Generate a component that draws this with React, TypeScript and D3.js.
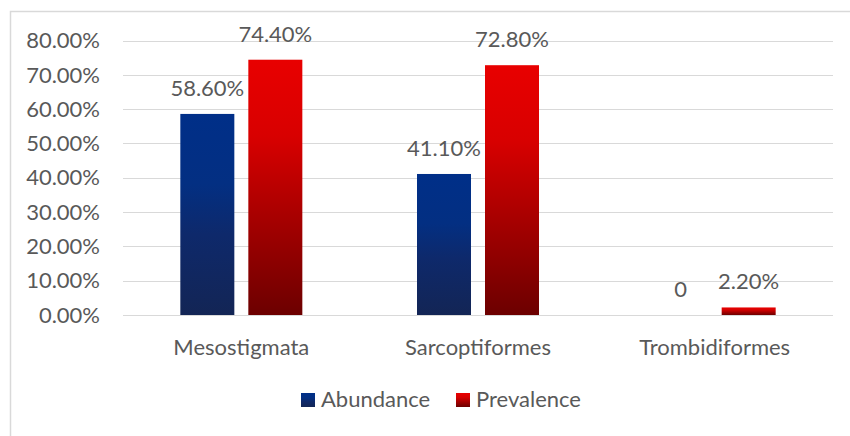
import React from "react";
import * as d3 from "d3";

const categories = ["Mesostigmata", "Sarcoptiformes", "Trombidiformes"];
const seriesNames = ["Abundance", "Prevalence"];
const abundance = [58.6, 41.1, 0];
const prevalence = [74.4, 72.8, 2.2];
const abundanceLabels = ["58.60%", "41.10%", "0"];
const prevalenceLabels = ["74.40%", "72.80%", "2.20%"];
const yTicks = [0, 10, 20, 30, 40, 50, 60, 70, 80];

const W = 850;
const H = 436;
const FONT = "Lato, Carlito, 'Liberation Sans', sans-serif";
const TEXT = "#595959";
const FS = 22;

export default function App() {
  const x = d3.scaleBand<string>().domain(categories).range([123, 833]);
  const y = d3.scaleLinear().domain([0, 80]).range([315, 40.5]);
  const barW = 54;
  const gap = 14;
  const series = [abundance, prevalence];
  const labels = [abundanceLabels, prevalenceLabels];
  const fills = ["url(#gBlue)", "url(#gRed)"];

  return (
    <svg
      width={W}
      height={H}
      style={{ position: "absolute", left: 0, top: 0, display: "block", background: "#fff" }}
      fontFamily={FONT}
    >
      <defs>
        <linearGradient id="gBlue" x1="0" y1="0" x2="0" y2="1">
          <stop offset="0" stopColor="#002f88" />
          <stop offset="0.35" stopColor="#032f82" />
          <stop offset="0.6" stopColor="#0e296b" />
          <stop offset="1" stopColor="#132555" />
        </linearGradient>
        <linearGradient id="gRed" x1="0" y1="0" x2="0" y2="1">
          <stop offset="0" stopColor="#e80000" />
          <stop offset="0.3" stopColor="#d80000" />
          <stop offset="1" stopColor="#6c0000" />
        </linearGradient>
      </defs>
      <rect x={10.5} y={11.5} width={W + 10} height={H + 10} fill="#fff" stroke="#d9d9d9" strokeWidth={1.5} />

      {yTicks.map((t) => (
        <g key={t}>
          <line x1={123} x2={833} y1={Math.round(y(t)) + 0.5} y2={Math.round(y(t)) + 0.5} stroke="#d9d9d9" strokeWidth={1.2} />
          <text x={100} y={y(t)} dy="0.35em" textAnchor="end" fontSize={FS} fill={TEXT}>
            {t.toFixed(2) + "%"}
          </text>
        </g>
      ))}

      {categories.map((c, i) => {
        const cx = (x(c) as number) + x.bandwidth() / 2;
        return (
          <g key={c}>
            {series.map((s, j) => {
              const bx = j === 0 ? cx - gap / 2 - barW : cx + gap / 2;
              const top = y(s[i]);
              return (
                <g key={j}>
                  {s[i] > 0 && (
                    <rect x={bx} y={top} width={barW} height={y(0) - top} fill={fills[j]} />
                  )}
                  <text x={bx + barW / 2} y={top - 18} textAnchor="middle" fontSize={FS} fill={TEXT}>
                    {labels[j][i]}
                  </text>
                </g>
              );
            })}
            <text x={cx} y={355} textAnchor="middle" fontSize={FS} fill={TEXT}>
              {c}
            </text>
          </g>
        );
      })}

      {seriesNames.map((n, j) => {
        const lx = j === 0 ? 301 : 456;
        return (
          <g key={n}>
            <rect x={lx} y={393} width={14} height={14} fill={fills[j]} />
            <text x={lx + 20} y={407} fontSize={FS} fill={TEXT}>
              {n}
            </text>
          </g>
        );
      })}
    </svg>
  );
}
